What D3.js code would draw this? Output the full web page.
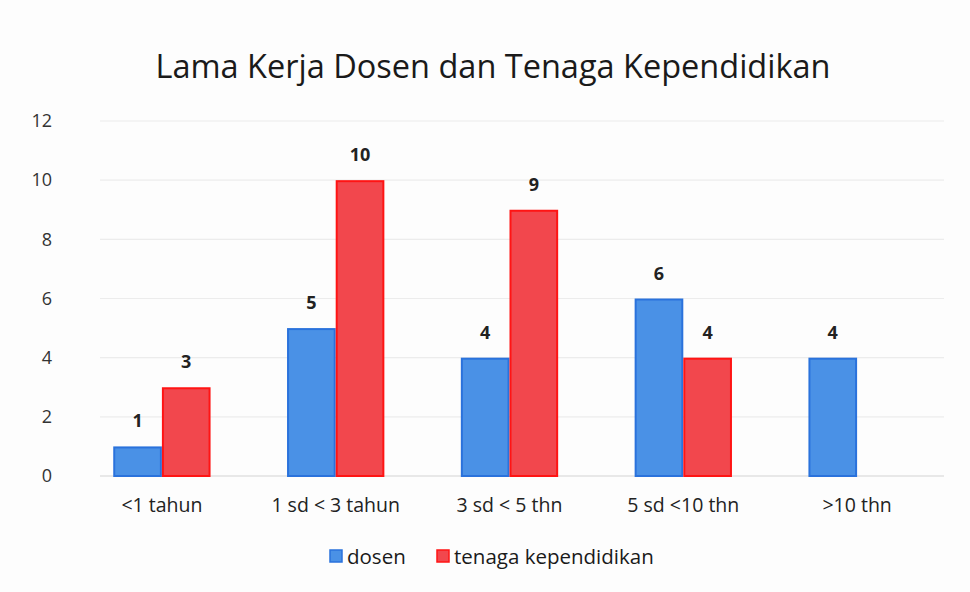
<!DOCTYPE html>
<html><head><meta charset="utf-8">
<script src="https://cdn.jsdelivr.net/npm/d3@7"></script>
<style>body{margin:0;background:#fff}svg{display:block}</style>
</head><body>
<svg id="c" width="970" height="592"></svg>
<script>
const categories = ["<1 tahun", "1 sd < 3 tahun", "3 sd < 5 thn", "5 sd <10 thn", ">10 thn"];
const seriesNames = ["dosen", "tenaga kependidikan"];
const dosen = [1, 5, 4, 6, 4];
const tenaga = [3, 10, 9, 4, 0];
const yTicks = [0, 2, 4, 6, 8, 10, 12];
const title = "Lama Kerja Dosen dan Tenaga Kependidikan";

const colors = {fill: ["#4a91e6", "#f2474d"], stroke: ["#2a72dc", "#ff1414"]};
const font = "'Open Sans', Calibri, sans-serif";
const svg = d3.select("#c");
svg.append("rect").attr("width", 970).attr("height", 592).attr("fill", "#fdfdfd");

const m = {l: 75, r: 26, t: 121, b: 116};
const W = 970, H = 592;
const x = d3.scaleBand().domain(categories).range([m.l, W - m.r]).paddingInner(0.44).paddingOuter(0.22);
const x1 = d3.scaleBand().domain(seriesNames).range([0, x.bandwidth()]);
const y = d3.scaleLinear().domain([0, 12]).range([H - m.b, m.t]);

// gridlines
svg.append("g").selectAll("line").data(yTicks).join("line")
  .attr("x1", 100).attr("x2", W - m.r)
  .attr("y1", d => y(d)).attr("y2", d => y(d))
  .attr("stroke", d => d === 0 ? "#d4d4d4" : "#ececec").attr("stroke-width", 1.2);

// y axis labels
const yAxis = d3.axisLeft(y).tickValues(yTicks).tickSize(0).tickPadding(0);
const ga = svg.append("g").attr("transform", "translate(52,0)").call(yAxis);
ga.select(".domain").remove();
ga.selectAll("text").attr("font-family", font).attr("font-size", 18).attr("fill", "#333");

// bars
const data = categories.map((c, i) => ({c, vals: [dosen[i], tenaga[i]]}));
const groups = svg.append("g").selectAll("g").data(data).join("g")
  .attr("transform", d => `translate(${x(d.c)},0)`);
groups.selectAll("rect").data(d => d.vals.map((v, k) => ({v, k})).filter(e => e.v > 0)).join("rect")
  .attr("x", e => x1(seriesNames[e.k]) + 1)
  .attr("width", x1.bandwidth() - 2)
  .attr("y", e => y(e.v) + 1)
  .attr("height", e => y(0) - y(e.v) - 1)
  .attr("fill", e => colors.fill[e.k])
  .attr("stroke", e => colors.stroke[e.k]).attr("stroke-width", 2);
groups.selectAll("text").data(d => d.vals.map((v, k) => ({v, k})).filter(e => e.v > 0)).join("text")
  .attr("x", e => x1(seriesNames[e.k]) + x1.bandwidth() / 2)
  .attr("y", e => y(e.v) - 19)
  .attr("text-anchor", "middle")
  .attr("font-family", font).attr("font-weight", 700).attr("font-size", 18).attr("fill", "#222")
  .text(e => e.v);

// x axis labels
const xAxis = d3.axisBottom(x).tickSize(0).tickPadding(0);
const gx = svg.append("g").attr("transform", `translate(0,${y(0) + 36})`).call(xAxis);
gx.select(".domain").remove();
gx.selectAll("text").attr("font-family", font).attr("font-size", 19.5).attr("fill", "#222").attr("dy", 0);

// title
svg.append("text").attr("x", 493).attr("y", 78).attr("text-anchor", "middle")
  .attr("font-family", font).attr("font-size", 32.5).attr("fill", "#1a1a1a").text(title);

// legend
const leg = [{x: 330}, {x: 437}];
const lg = svg.append("g").selectAll("g").data(seriesNames).join("g")
  .attr("transform", (d, i) => `translate(${leg[i].x},557)`);
lg.append("rect").attr("x", 0).attr("y", -7).attr("width", 12).attr("height", 12)
  .attr("fill", (d, i) => colors.fill[i]).attr("stroke", (d, i) => colors.stroke[i]).attr("stroke-width", 1.5);
lg.append("text").attr("x", 17).attr("y", 7).attr("font-family", font).attr("font-size", 20.5).attr("fill", "#1a1a1a").text(d => d);
</script>
</body></html>
